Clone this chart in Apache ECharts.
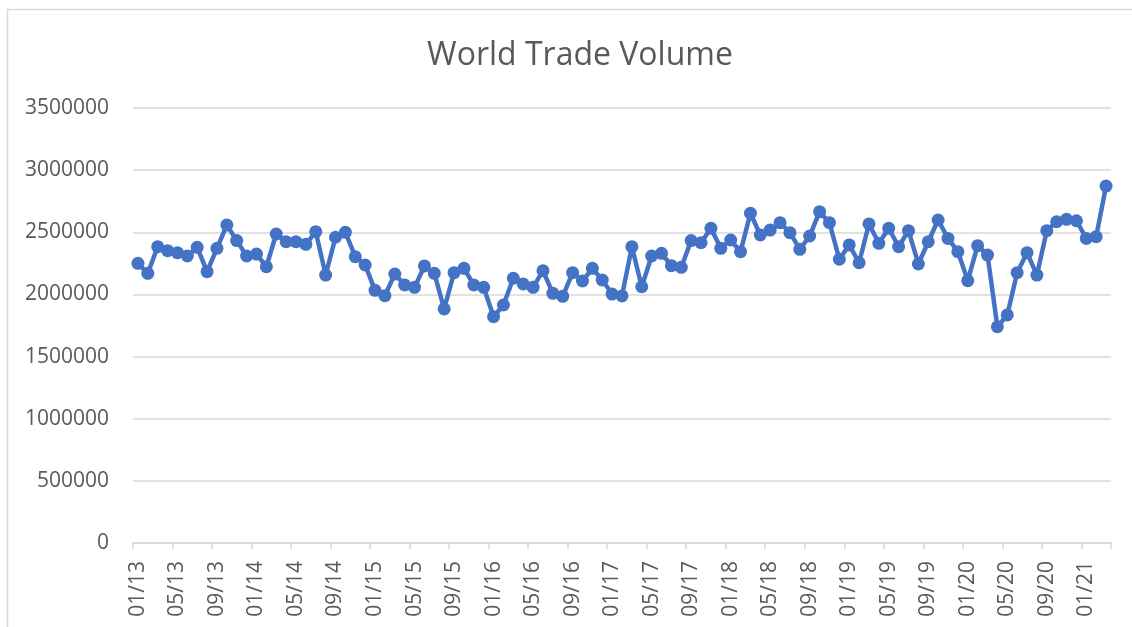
<!DOCTYPE html>
<html>
<head>
<meta charset="utf-8">
<title>World Trade Volume</title>
<script src="https://cdn.jsdelivr.net/npm/echarts@6/dist/echarts.min.js"></script>
<style>
    html, body { margin: 0; padding: 0; background: #fff; }
    #main { width: 1132px; height: 627px; }
</style>
</head>
<body>
<div id="main"></div>
<script>
// 月份 (MM/YY), 01/13 - 03/21
let startYear = 13;
let endYear = 21;
let lastMonth = 3;
let months = [];
for (let y = startYear; y <= endYear; y++) {
    let mEnd = (y === endYear) ? lastMonth : 12;
    for (let m = 1; m <= mEnd; m++) {
        months.push((m < 10 ? '0' + m : '' + m) + '/' + y);
    }
}

// 每年的貿易量
let vol2013 = [2250000, 2170000, 2384000, 2352000, 2336000, 2309000, 2379000, 2183000, 2371000, 2559000, 2433000, 2309000];
let vol2014 = [2325000, 2223000, 2486000, 2424000, 2424000, 2403000, 2505000, 2156000, 2460000, 2500000, 2304000, 2237000];
let vol2015 = [2033000, 1990000, 2164000, 2076000, 2057000, 2229000, 2170000, 1883000, 2175000, 2210000, 2076000, 2057000];
let vol2016 = [1821000, 1915000, 2130000, 2084000, 2057000, 2191000, 2009000, 1985000, 2175000, 2108000, 2210000, 2116000];
let vol2017 = [2003000, 1988000, 2384000, 2062000, 2309000, 2331000, 2231000, 2218000, 2433000, 2416000, 2532000, 2371000];
let vol2018 = [2438000, 2344000, 2653000, 2478000, 2518000, 2577000, 2497000, 2363000, 2470000, 2666000, 2577000, 2283000];
let vol2019 = [2398000, 2255000, 2567000, 2411000, 2532000, 2384000, 2513000, 2245000, 2424000, 2599000, 2451000, 2344000];
let vol2020 = [2111000, 2392000, 2317000, 1740000, 1835000, 2175000, 2336000, 2156000, 2513000, 2585000, 2604000, 2593000];
let vol2021 = [2451000, 2465000, 2872000];
let volume = [].concat(vol2013, vol2014, vol2015, vol2016, vol2017, vol2018, vol2019, vol2020, vol2021);

// y軸刻度
let yMin = 0;
let yMax = 3500000;
let yStep = 500000;

let myChart = echarts.init(document.getElementById('main'));

let option = {
    animation: false,
    textStyle: {
        fontFamily: 'Open Sans'
    },
    title: {
        text: 'World Trade Volume',
        left: 575,
        textAlign: 'center',
        top: 35,
        textStyle: {
            fontSize: 32,
            fontWeight: 'normal',
            color: '#595959',
            fontFamily: 'Open Sans'
        }
    },
    // 外框
    graphic: [{
        type: 'rect',
        shape: { x: 7.5, y: 9.5, width: 1200, height: 700 },
        style: { fill: 'none', stroke: '#d9d9d9', lineWidth: 1.5 },
        silent: true
    }],
    grid: {
        left: 133,
        right: 21,
        top: 108,
        bottom: 84
    },
    xAxis: {
        type: 'category',
        data: months,
        boundaryGap: true,
        axisLine: {
            lineStyle: { color: '#d9d9d9', width: 1.5 }
        },
        axisTick: {
            show: true,
            interval: 3,
            length: 6,
            lineStyle: { color: '#d9d9d9', width: 1.5 }
        },
        axisLabel: {
            interval: 3,
            rotate: 90,
            margin: 18,
            fontSize: 21,
            color: '#595959'
        }
    },
    yAxis: {
        type: 'value',
        min: yMin,
        max: yMax,
        interval: yStep,
        axisLine: { show: false },
        axisTick: { show: false },
        splitLine: {
            lineStyle: { color: '#d9d9d9', width: 1.5 }
        },
        axisLabel: {
            margin: 24,
            fontSize: 21,
            color: '#595959',
            formatter: function (v) {
                return String(v); // 不要千分位
            }
        }
    },
    series: [
        {
            name: 'World Trade Volume',
            type: 'line',
            data: volume,
            symbol: 'circle',
            symbolSize: 13,
            showSymbol: true,
            showAllSymbol: true,
            color: '#4472C4',
            lineStyle: {
                width: 4.5,
                color: '#4472C4'
            },
            itemStyle: {
                color: '#4472C4'
            }
        }
    ]
};

myChart.setOption(option);

window.onresize = function () {
    myChart.resize();
}
</script>
</body>
</html>
